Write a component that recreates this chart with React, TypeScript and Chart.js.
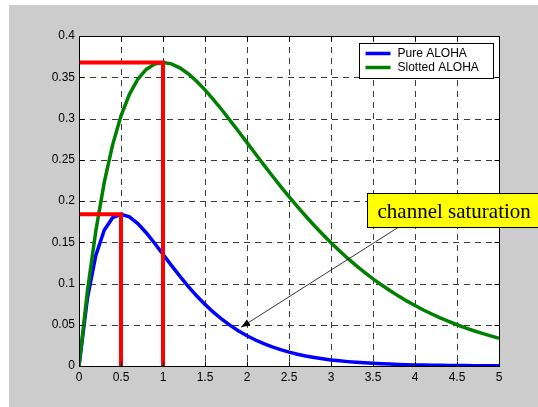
import { useEffect, useRef } from 'react';
import { Chart, registerables, Plugin } from 'chart.js';

Chart.register(...registerables);

// offered load G
const offeredLoad = [
  0, 0.1, 0.2, 0.3, 0.4, 0.5, 0.6, 0.7, 0.8, 0.9, 1.0, 1.1, 1.2, 1.3, 1.4, 1.5, 1.6, 1.7,
  1.8, 1.9, 2.0, 2.1, 2.2, 2.3, 2.4, 2.5, 2.6, 2.7, 2.8, 2.9, 3.0, 3.1, 3.2, 3.3, 3.4,
  3.5, 3.6, 3.7, 3.8, 3.9, 4.0, 4.1, 4.2, 4.3, 4.4, 4.5, 4.6, 4.7, 4.8, 4.9, 5.0,
];

// throughput S
const pureAloha = [
  0, 0.0819, 0.1341, 0.1646, 0.1797, 0.1839, 0.1807, 0.1726, 0.1615, 0.1488, 0.1353,
  0.1219, 0.1089, 0.0966, 0.0851, 0.0747, 0.0652, 0.0567, 0.0492, 0.0425, 0.0366,
  0.0315, 0.027, 0.0231, 0.0198, 0.0168, 0.0143, 0.0122, 0.0104, 0.0088, 0.0074,
  0.0063, 0.0053, 0.0045, 0.0038, 0.0032, 0.0027, 0.0023, 0.0019, 0.0016, 0.0013,
  0.0011, 0.0009, 0.0008, 0.0007, 0.0006, 0.0005, 0.0004, 0.0003, 0.0003, 0.0002,
];

const slottedAloha = [
  0, 0.0905, 0.1637, 0.2222, 0.2681, 0.3033, 0.3293, 0.3476, 0.3595, 0.3659, 0.3679,
  0.3662, 0.3614, 0.3543, 0.3452, 0.3347, 0.323, 0.3106, 0.2975, 0.2842, 0.2707,
  0.2572, 0.2438, 0.2306, 0.2177, 0.2052, 0.1931, 0.1815, 0.1703, 0.1596, 0.1494,
  0.1397, 0.1304, 0.1217, 0.1135, 0.1057, 0.0984, 0.0915, 0.085, 0.0789, 0.0733,
  0.0679, 0.063, 0.0583, 0.054, 0.05, 0.0462, 0.0427, 0.0395, 0.0365, 0.0337,
];

const pureMax = { load: 0.5, throughput: 0.184 };
const slottedMax = { load: 1, throughput: 0.368 };

const xTicks = [0, 0.5, 1, 1.5, 2, 2.5, 3, 3.5, 4, 4.5, 5];
const yTicks = [0, 0.05, 0.1, 0.15, 0.2, 0.25, 0.3, 0.35, 0.4];

const seriesNames = ['Pure ALOHA', 'Slotted ALOHA'];
const seriesColors = ['#0000ff', '#008000'];

const noteText = 'channel saturation';
const noteBox = { x: 3.43, yTop: 0.21, yBottom: 0.168 };
const arrowFrom = { x: 3.8, y: 0.168 };
const arrowTo = { x: 1.93, y: 0.047 };

const sans = '"Liberation Sans", Arial, sans-serif';
const serif = '"Liberation Serif", "Times New Roman", serif';

const matlabFrame: Plugin<'line'> = {
  id: 'matlabFrame',
  beforeDraw(chart) {
    const { ctx, chartArea: a, scales } = chart;
    ctx.save();
    ctx.fillStyle = '#cccccc';
    ctx.fillRect(9, 5, chart.width - 9, chart.height - 5);
    ctx.fillStyle = '#ffffff';
    ctx.fillRect(a.left, a.top, a.right - a.left, a.bottom - a.top);

    ctx.strokeStyle = '#3a3a3a';
    ctx.lineWidth = 1;
    ctx.setLineDash([6, 5]);
    xTicks.slice(1, -1).forEach((v) => {
      const px = Math.round(scales.x.getPixelForValue(v)) + 0.5;
      ctx.beginPath();
      ctx.moveTo(px, a.top);
      ctx.lineTo(px, a.bottom);
      ctx.stroke();
    });
    yTicks.slice(1, -1).forEach((v) => {
      const py = Math.round(scales.y.getPixelForValue(v)) + 0.5;
      ctx.beginPath();
      ctx.moveTo(a.left, py);
      ctx.lineTo(a.right, py);
      ctx.stroke();
    });
    ctx.restore();
  },
  afterDatasetsDraw(chart) {
    const { ctx, chartArea: a, scales } = chart;
    ctx.save();
    ctx.strokeStyle = '#000';
    ctx.lineWidth = 1;
    const l = Math.round(a.left) + 0.5;
    const r = Math.round(a.right) + 0.5;
    const t = Math.round(a.top) + 0.5;
    const b = Math.round(a.bottom) + 0.5;
    ctx.strokeRect(l, t, r - l, b - t);

    // inward ticks on all four sides
    const tl = 5;
    ctx.beginPath();
    xTicks.forEach((v) => {
      const px = Math.round(scales.x.getPixelForValue(v)) + 0.5;
      ctx.moveTo(px, b);
      ctx.lineTo(px, b - tl);
      ctx.moveTo(px, t);
      ctx.lineTo(px, t + tl);
    });
    yTicks.forEach((v) => {
      const py = Math.round(scales.y.getPixelForValue(v)) + 0.5;
      ctx.moveTo(l, py);
      ctx.lineTo(l + tl, py);
      ctx.moveTo(r, py);
      ctx.lineTo(r - tl, py);
    });
    ctx.stroke();
    ctx.restore();
  },
  afterDraw(chart) {
    const { ctx, chartArea: a, scales } = chart;
    ctx.save();

    // legend box
    const lw = 134;
    const lh = 35;
    const lx = Math.round(a.right) - 6 - lw + 0.5;
    const ly = Math.round(a.top) + 7 + 0.5;
    ctx.fillStyle = '#fff';
    ctx.fillRect(lx, ly, lw, lh);
    ctx.strokeStyle = '#000';
    ctx.lineWidth = 1;
    ctx.strokeRect(lx, ly, lw, lh);
    ctx.font = `12px ${sans}`;
    ctx.textBaseline = 'middle';
    ctx.textAlign = 'left';
    seriesNames.forEach((name, i) => {
      const cy = ly + 10 + i * 14;
      ctx.strokeStyle = seriesColors[i];
      ctx.lineWidth = 3.5;
      ctx.beginPath();
      ctx.moveTo(lx + 6, cy);
      ctx.lineTo(lx + 31, cy);
      ctx.stroke();
      ctx.fillStyle = '#000';
      ctx.fillText(name, lx + 38, cy);
    });

    // arrow
    const x0 = scales.x.getPixelForValue(arrowFrom.x);
    const y0 = scales.y.getPixelForValue(arrowFrom.y);
    const x1 = scales.x.getPixelForValue(arrowTo.x);
    const y1 = scales.y.getPixelForValue(arrowTo.y);
    ctx.strokeStyle = '#000';
    ctx.lineWidth = 0.8;
    ctx.beginPath();
    ctx.moveTo(x0, y0);
    ctx.lineTo(x1, y1);
    ctx.stroke();
    const ang = Math.atan2(y1 - y0, x1 - x0);
    const hl = 9;
    const hw = 3.5;
    ctx.fillStyle = '#000';
    ctx.beginPath();
    ctx.moveTo(x1, y1);
    ctx.lineTo(
      x1 - hl * Math.cos(ang) + hw * Math.sin(ang),
      y1 - hl * Math.sin(ang) - hw * Math.cos(ang)
    );
    ctx.lineTo(
      x1 - hl * Math.cos(ang) - hw * Math.sin(ang),
      y1 - hl * Math.sin(ang) + hw * Math.cos(ang)
    );
    ctx.closePath();
    ctx.fill();

    // note box, running off the right edge
    const bx = Math.round(scales.x.getPixelForValue(noteBox.x)) + 0.5;
    const bt = Math.round(scales.y.getPixelForValue(noteBox.yTop)) + 0.5;
    const bb = Math.round(scales.y.getPixelForValue(noteBox.yBottom)) + 0.5;
    ctx.fillStyle = '#ffff00';
    ctx.fillRect(bx, bt, chart.width - bx + 5, bb - bt);
    ctx.strokeStyle = '#000';
    ctx.lineWidth = 1;
    ctx.strokeRect(bx, bt, chart.width - bx + 5, bb - bt);
    ctx.fillStyle = '#000';
    ctx.font = `21px ${serif}`;
    ctx.textBaseline = 'alphabetic';
    ctx.fillText(noteText, bx + 10, bb - 10);

    ctx.restore();
  },
};

const App = () => {
  const canvasRef = useRef<HTMLCanvasElement>(null);

  useEffect(() => {
    document.body.style.margin = '0';
    const toPoints = (ys: number[]) => offeredLoad.map((g, i) => ({ x: g, y: ys[i] }));
    const maxLine = (m: { load: number; throughput: number }) => [
      { x: 0, y: m.throughput },
      { x: m.load, y: m.throughput },
      { x: m.load, y: 0 },
    ];

    const chart = new Chart(canvasRef.current as HTMLCanvasElement, {
      type: 'line',
      data: {
        datasets: [
          {
            label: 'slotted max',
            data: maxLine(slottedMax),
            borderColor: '#ff0000',
            borderWidth: 4,
            pointRadius: 0,
          },
          {
            label: 'pure max',
            data: maxLine(pureMax),
            borderColor: '#ff0000',
            borderWidth: 4,
            pointRadius: 0,
          },
          {
            label: seriesNames[1],
            data: toPoints(slottedAloha),
            borderColor: seriesColors[1],
            borderWidth: 3.5,
            pointRadius: 0,
          },
          {
            label: seriesNames[0],
            data: toPoints(pureAloha),
            borderColor: seriesColors[0],
            borderWidth: 3.5,
            pointRadius: 0,
          },
        ],
      },
      options: {
        responsive: false,
        animation: false,
        layout: { padding: { left: 0, top: 36, right: 39, bottom: 0 } },
        plugins: {
          legend: { display: false },
          tooltip: { enabled: false },
        },
        scales: {
          x: {
            type: 'linear',
            min: 0,
            max: 5,
            grid: { display: false, drawTicks: false },
            border: { display: false },
            afterBuildTicks: (scale) => {
              scale.ticks = xTicks.map((v) => ({ value: v }));
            },
            afterFit: (scale) => {
              scale.height = 41;
            },
            ticks: {
              padding: 4,
              color: '#000',
              maxRotation: 0,
              font: { family: sans, size: 12 },
              callback: (v) => String(v),
            },
          },
          y: {
            type: 'linear',
            min: 0,
            max: 0.4,
            grid: { display: false, drawTicks: false },
            border: { display: false },
            afterBuildTicks: (scale) => {
              scale.ticks = yTicks.map((v) => ({ value: v }));
            },
            afterFit: (scale) => {
              scale.width = 79;
            },
            ticks: {
              padding: 4,
              color: '#000',
              font: { family: sans, size: 12 },
              callback: (v) => String(v),
            },
          },
        },
      },
      plugins: [matlabFrame],
    });

    return () => {
      chart.destroy();
    };
  }, []);

  return (
    <div style={{ width: 538, height: 407 }}>
      <canvas ref={canvasRef} width={538} height={407} />
    </div>
  );
};

export default App;
